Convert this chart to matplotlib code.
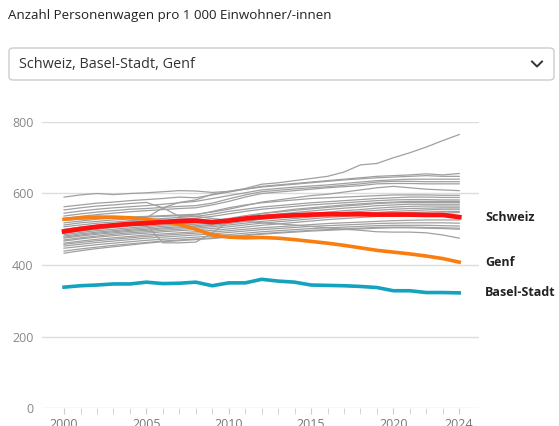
import numpy as np
import matplotlib
matplotlib.use('Agg')
import matplotlib.pyplot as plt
from matplotlib.patches import FancyBboxPatch
from matplotlib.lines import Line2D

plt.rcParams['font.family'] = ['Open Sans', 'DejaVu Sans']

# years on the x axis
years = list(range(2000, 2025))

# highlighted series
schweiz = [494, 501, 507, 511, 515, 517, 520, 523, 524, 520, 524, 530, 534,
           537, 539, 541, 542, 542, 542, 541, 541, 541, 540, 540, 534]
genf = [528, 532, 534, 534, 532, 528, 522, 514, 500, 484, 478, 476, 477,
        475, 471, 466, 461, 455, 448, 441, 436, 431, 425, 418, 408]
basel_stadt = [338, 342, 344, 347, 347, 352, 348, 349, 352, 342, 350, 350, 360,
               355, 352, 344, 343, 342, 340, 337, 328, 328, 323, 323, 322]

# the other cantons (grey background lines)
others = [
    [590, 596, 600, 597, 600, 602, 605, 608, 607, 603, 606, 614, 626, 630, 636, 642, 648, 660, 680, 684, 700, 714, 730, 748, 765],
    [563, 568, 573, 576, 580, 583, 586, 590, 588, 596, 604, 612, 620, 624, 628, 632, 636, 640, 644, 648, 650, 652, 655, 652, 656],
    [554, 560, 565, 568, 572, 575, 560, 575, 582, 598, 606, 612, 618, 622, 626, 630, 634, 638, 641, 644, 646, 648, 650, 648, 648],
    [545, 551, 556, 560, 563, 566, 570, 574, 578, 586, 594, 602, 610, 614, 618, 621, 624, 628, 632, 636, 638, 640, 640, 640, 640],
    [537, 543, 548, 552, 556, 558, 561, 564, 566, 573, 585, 596, 605, 609, 613, 616, 619, 623, 627, 632, 634, 634, 633, 633, 633],
    [530, 536, 541, 545, 549, 552, 555, 558, 560, 568, 578, 590, 600, 604, 608, 612, 616, 619, 622, 627, 628, 628, 627, 627, 627],
    [525, 528, 530, 532, 533, 534, 536, 538, 536, 530, 526, 522, 518, 515, 512, 508, 504, 500, 497, 493, 492, 492, 490, 484, 475],
    [518, 523, 528, 531, 534, 536, 538, 540, 542, 548, 556, 566, 576, 582, 588, 594, 598, 604, 610, 616, 620, 616, 612, 610, 608],
    [512, 518, 522, 526, 529, 532, 560, 536, 540, 550, 560, 568, 574, 578, 582, 586, 588, 590, 592, 594, 596, 596, 596, 595, 595],
    [507, 512, 517, 520, 524, 527, 530, 533, 536, 542, 550, 556, 562, 566, 570, 574, 577, 580, 583, 586, 588, 590, 590, 589, 589],
    [500, 506, 511, 515, 519, 522, 525, 528, 531, 536, 543, 550, 556, 560, 564, 568, 571, 574, 577, 580, 582, 583, 583, 582, 582],
    [489, 495, 500, 505, 509, 512, 462, 462, 464, 490, 522, 534, 544, 550, 556, 560, 564, 568, 571, 574, 576, 578, 578, 578, 578],
    [485, 491, 496, 500, 504, 508, 512, 515, 518, 523, 530, 538, 544, 548, 553, 557, 561, 565, 568, 572, 574, 575, 575, 575, 575],
    [481, 487, 492, 496, 500, 504, 508, 511, 514, 518, 524, 531, 538, 542, 547, 551, 555, 559, 562, 566, 568, 570, 570, 570, 570],
    [478, 484, 489, 493, 497, 500, 504, 507, 510, 514, 520, 526, 532, 536, 540, 544, 548, 552, 555, 559, 562, 564, 565, 565, 565],
    [475, 481, 486, 490, 494, 497, 501, 504, 507, 511, 516, 522, 528, 532, 536, 540, 544, 547, 550, 553, 556, 558, 559, 560, 560],
    [470, 476, 481, 486, 490, 493, 497, 500, 503, 507, 512, 517, 522, 526, 530, 534, 538, 541, 544, 547, 550, 552, 554, 556, 556],
    [467, 473, 478, 482, 486, 489, 493, 496, 499, 502, 507, 512, 517, 521, 525, 529, 533, 536, 539, 542, 545, 547, 548, 550, 550],
    [461, 467, 472, 476, 480, 484, 487, 490, 493, 497, 501, 506, 511, 515, 519, 523, 527, 530, 533, 536, 539, 541, 543, 545, 547],
    [458, 463, 468, 472, 476, 480, 483, 486, 489, 492, 496, 500, 504, 507, 510, 513, 516, 518, 520, 522, 524, 525, 526, 526, 526],
    [453, 458, 463, 467, 471, 475, 478, 481, 484, 487, 491, 495, 499, 502, 505, 508, 510, 512, 514, 516, 517, 518, 518, 518, 517],
    [447, 452, 457, 461, 465, 469, 472, 475, 478, 481, 485, 489, 493, 496, 499, 502, 504, 506, 508, 510, 511, 511, 511, 510, 509],
    [439, 445, 450, 455, 459, 463, 467, 470, 473, 476, 480, 484, 488, 491, 494, 497, 499, 501, 503, 505, 506, 506, 505, 504, 503],
    [433, 440, 446, 451, 456, 461, 465, 468, 471, 474, 478, 482, 486, 489, 492, 495, 497, 499, 501, 503, 504, 504, 503, 502, 500],
]

y_ticks = [0, 200, 400, 600, 800]
x_labels = [2000, 2005, 2010, 2015, 2020, 2024]

W, H = 559, 426
fig = plt.figure(figsize=(W / 100, H / 100), dpi=100)
fig.patch.set_facecolor('white')

# title and the dropdown box on top
fig.text(8 / W, 1 - 16 / H, 'Anzahl Personenwagen pro 1 000 Einwohner/-innen',
         fontsize=9.6, color='#222222', va='center', ha='left')
box = FancyBboxPatch((9 / W, 1 - 80 / H), 545 / W, 32 / H,
                     boxstyle='round,pad=0,rounding_size=0.008',
                     transform=fig.transFigure, facecolor='white',
                     edgecolor='#cccccc', linewidth=1)
fig.patches.append(box)
fig.text(19 / W, 1 - 64.5 / H, 'Schweiz, Basel-Stadt, Genf',
         fontsize=10.4, color='#333333', va='center', ha='left')
fig.add_artist(Line2D([532 / W, 537 / W, 542 / W],
                      [1 - 61.5 / H, 1 - 66.5 / H, 1 - 61.5 / H],
                      transform=fig.transFigure, color='#333333', linewidth=1.4))

# main plot area
ax = fig.add_axes([42 / W, 18 / H, 437 / W, 286 / H])
for s in others:
    ax.plot(years, s, color='#a0a0a0', linewidth=0.9, zorder=2)
ax.plot(years, basel_stadt, color='#13a3bf', linewidth=2.6, zorder=3)
ax.plot(years, genf, color='#fa7d0f', linewidth=2.6, zorder=4)
ax.plot(years, schweiz, color='#ff1010', linewidth=3.4, zorder=5)

# end labels
for name, s in [('Schweiz', schweiz), ('Genf', genf), ('Basel-Stadt', basel_stadt)]:
    ax.annotate(name, xy=(years[-1], s[-1]), xytext=(18.7, 0),
                textcoords='offset points', va='center', ha='left',
                fontsize=9, fontweight='bold', color='#222222',
                annotation_clip=False)

ax.set_xlim(1998.66, 2025.2)
ax.set_ylim(0, 800)
for sp in ax.spines.values():
    sp.set_visible(False)
ax.set_yticks(y_ticks)
ax.grid(axis='y', color='#dddddd', linewidth=1, zorder=0)
ax.set_axisbelow(True)
ax.tick_params(axis='y', length=0, pad=6, labelsize=9, labelcolor='#888888')
ax.set_xticks(x_labels)
ax.set_xticks(years, minor=True)
ax.tick_params(axis='x', which='both', length=4, color='#cccccc',
               pad=3, labelsize=9, labelcolor='#777777')

fig.savefig('out.png', dpi=100)
